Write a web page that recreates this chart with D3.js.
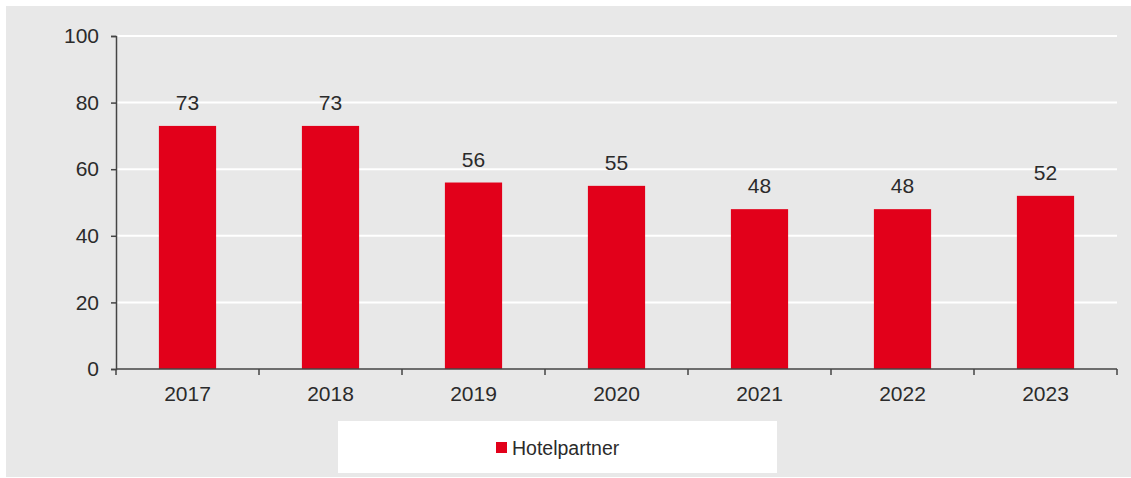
<!DOCTYPE html>
<html>
<head>
<meta charset="utf-8">
<script src="https://cdn.jsdelivr.net/npm/d3@7"></script>
<style>
  html, body { margin: 0; padding: 0; background: #ffffff; }
  svg { display: block; }
  text { font-family: "Liberation Sans", Arial, sans-serif; fill: #2b2b2b; }
</style>
</head>
<body>
<svg id="chart" width="1131" height="478"></svg>
<script>
// Number of hotel partners per year
const years = ["2017", "2018", "2019", "2020", "2021", "2022", "2023"];
const partners = [73, 73, 56, 55, 48, 48, 52];
const yTicks = [0, 20, 40, 60, 80, 100];
const seriesName = "Hotelpartner";

const W = 1131, H = 478;
const margin = { left: 116, right: 14, top: 36, bottom: 109 };
const red = "#e2001a";
const fontSize = 21;
const axisColor = "#444";

const svg = d3.select("#chart");

// panel background
svg.append("rect")
  .attr("x", 6).attr("y", 6)
  .attr("width", W - 6).attr("height", H - 7)
  .attr("fill", "#e8e8e8");

const x = d3.scaleBand()
  .domain(years)
  .range([margin.left, W - margin.right])
  .paddingInner(0.6)
  .paddingOuter(0.3);

const y = d3.scaleLinear()
  .domain([0, 100])
  .range([H - margin.bottom, margin.top]);

// horizontal gridlines
svg.append("g")
  .selectAll("line")
  .data(yTicks.filter(d => d > 0))
  .join("line")
  .attr("x1", margin.left).attr("x2", W - margin.right)
  .attr("y1", d => y(d)).attr("y2", d => y(d))
  .attr("stroke", "#ffffff").attr("stroke-width", 2);

const rows = years.map((yr, i) => ({ yr, v: partners[i] }));

// bars
svg.append("g")
  .selectAll("rect")
  .data(rows)
  .join("rect")
  .attr("x", d => x(d.yr))
  .attr("y", d => y(d.v))
  .attr("width", x.bandwidth())
  .attr("height", d => y(0) - y(d.v))
  .attr("fill", red);

// value labels
svg.append("g")
  .selectAll("text")
  .data(rows)
  .join("text")
  .attr("x", d => x(d.yr) + x.bandwidth() / 2)
  .attr("y", d => y(d.v) - 16)
  .attr("text-anchor", "middle")
  .attr("font-size", fontSize)
  .text(d => d.v);

// y axis
const yAxis = svg.append("g")
  .attr("transform", `translate(${margin.left},0)`)
  .call(d3.axisLeft(y).tickValues(yTicks).tickSize(5).tickPadding(12));
yAxis.selectAll("text").attr("font-size", fontSize).attr("fill", "#2b2b2b")
  .style("font-family", "'Liberation Sans', Arial, sans-serif");
yAxis.select(".domain").attr("stroke", axisColor).attr("stroke-width", 1.5);
yAxis.selectAll(".tick line").attr("stroke", axisColor).attr("stroke-width", 1.5);

// x axis with ticks at category boundaries
const bounds = d3.range(years.length + 1)
  .map(i => margin.left + i * (W - margin.right - margin.left) / years.length);
const xAxisG = svg.append("g");
xAxisG.append("line")
  .attr("x1", margin.left).attr("x2", W - margin.right)
  .attr("y1", y(0)).attr("y2", y(0))
  .attr("stroke", axisColor).attr("stroke-width", 1.5);
xAxisG.selectAll("line.tick")
  .data(bounds)
  .join("line")
  .attr("class", "tick")
  .attr("x1", d => d).attr("x2", d => d)
  .attr("y1", y(0)).attr("y2", y(0) + 6)
  .attr("stroke", axisColor).attr("stroke-width", 1.5);
xAxisG.selectAll("text")
  .data(years)
  .join("text")
  .attr("x", d => x(d) + x.bandwidth() / 2)
  .attr("y", y(0) + 32)
  .attr("text-anchor", "middle")
  .attr("font-size", fontSize)
  .text(d => d);

// legend
const lg = svg.append("g");
lg.append("rect")
  .attr("x", 338).attr("y", 421)
  .attr("width", 439).attr("height", 52)
  .attr("fill", "#ffffff");
lg.append("rect")
  .attr("x", 496).attr("y", 442)
  .attr("width", 11).attr("height", 11)
  .attr("fill", red);
lg.append("text")
  .attr("x", 512).attr("y", 455)
  .attr("font-size", 19.5)
  .text(seriesName);
</script>
</body>
</html>
